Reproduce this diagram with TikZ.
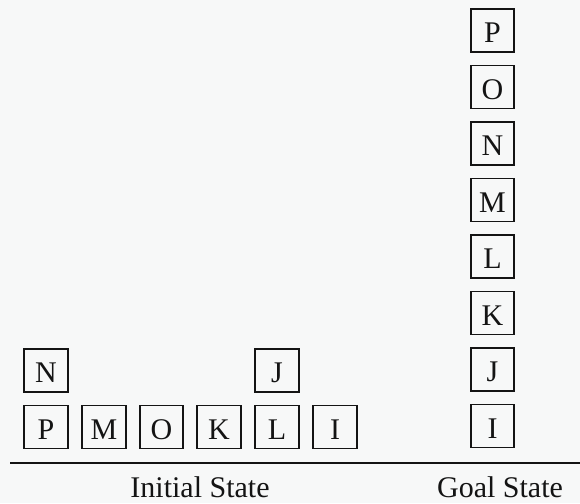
\documentclass[tikz,border=0pt]{standalone}
\usepackage{fontspec}
\setmainfont{Liberation Serif}
\definecolor{paper}{RGB}{247,248,248}
\definecolor{ink}{RGB}{20,20,20}
\begin{document}
\begin{tikzpicture}[x=1pt,y=-1pt,
  blk/.style={draw=ink,line width=1.7pt,minimum width=43.5pt,minimum height=43pt,
    inner sep=0pt,text height=24pt,text depth=0pt,font=\fontsize{30}{31}\selectfont,text=ink},
  lbl/.style={anchor=base,font=\fontsize{30}{32}\selectfont,text=ink,inner sep=0pt}]
\fill[paper] (0,0) rectangle (580,503);
\useasboundingbox (0,0) rectangle (580,503);
% initial state
\node[blk] (iP) at (46,427) {P};
\node[blk] (iM) at (104,427) {M};
\node[blk] (iO) at (161.5,427) {O};
\node[blk] (iK) at (219,427) {K};
\node[blk] (iL) at (277,427) {L};
\node[blk] (iI) at (335,427) {I};
\node[blk] (iN) at (46,370.5) {N};
\node[blk] (iJ) at (277,370.5) {J};
% goal state
\node[blk] (gP) at (492.5,30.5) {P};
\node[blk] (gO) at (492.5,87) {O};
\node[blk] (gN) at (492.5,143.5) {N};
\node[blk] (gM) at (492.5,200) {M};
\node[blk] (gL) at (492.5,256.5) {L};
\node[blk] (gK) at (492.5,313) {K};
\node[blk] (gJ) at (492.5,369.5) {J};
\node[blk] (gI) at (492.5,426) {I};
% table line
\coordinate (tl) at (10,463);
\coordinate (tr) at (580,463);
\draw[ink,line width=2.8pt] (tl) -- (tr);
\node[lbl] (init) at (200,497) {Initial State};
\node[lbl] (goal) at (500,497) {Goal State};
\end{tikzpicture}
\end{document}
